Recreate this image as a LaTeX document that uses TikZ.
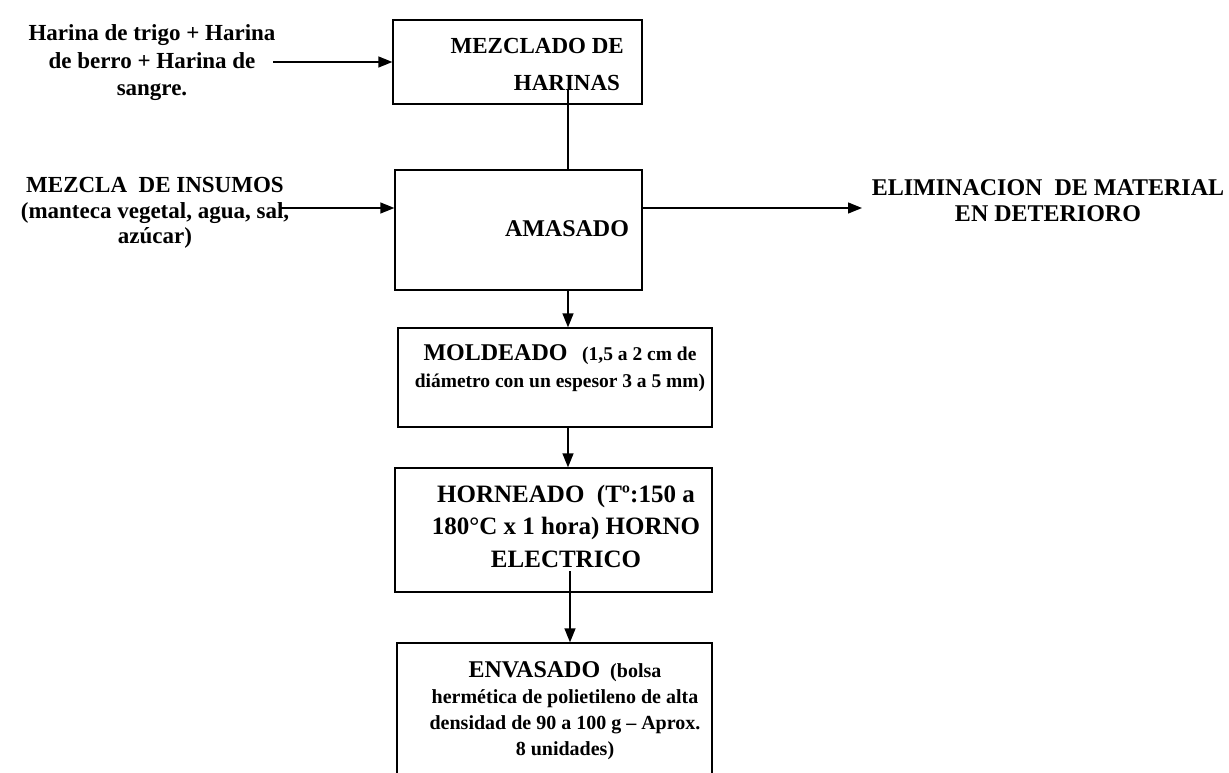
\documentclass[tikz,border=0pt]{standalone}
\usepackage{fontspec}
\setmainfont{Liberation Serif}
\usetikzlibrary{arrows.meta}

\tikzset{
  caja/.style 2 args={draw, line width=1.3pt, inner sep=0pt,
    minimum width=#1, minimum height=#2},
  texto/.style={align=center, inner sep=0pt, font=\bfseries},
  flecha/.style={line width=1.3pt, -{Triangle[length=14pt,width=11pt]}},
  linea/.style={line width=1.3pt}
}
\newcommand{\grande}{\fontsize{24}{36}\selectfont}
\newcommand{\chico}{\fontsize{19.5}{27}\selectfont}

\begin{document}
\begin{tikzpicture}[x=1pt, y=-1pt]
  \clip (0,0) rectangle (1229,773);

  % cajas del proceso
  \node[caja={249pt}{84pt}]  (b1) at (517.5,62)  {};
  \node[caja={247pt}{120pt}] (b2) at (518.5,230) {};
  \node[caja={314pt}{99pt}]  (b3) at (555,377.5) {};
  \node[caja={317pt}{124pt}] (b4) at (553.5,530) {};
  \node[caja={315pt}{157pt}] (b5) at (554.5,721.5) {}; % cortada abajo

  \node[texto, align=right, anchor=east, font=\bfseries\fontsize{23}{37}\selectfont]
    (t1) at (624,64) {MEZCLADO DE\\HARINAS\,};
  \node[texto, font=\bfseries\grande] (t2) at (567,229) {AMASADO};
  \node[texto, font=\bfseries\chico] (t3) at (560,368)
    {{\grande MOLDEADO}\ \ \ (1,5 a 2 cm de\\diámetro con un espesor 3 a 5 mm)};
  \node[texto, font=\bfseries\fontsize{25}{32.5}\selectfont] (t4) at (566,526)
    {HORNEADO\ \ (Tº:150 a\\180°C x 1 hora) HORNO\\ELECTRICO};
  \node[texto, font=\bfseries\fontsize{20}{26}\selectfont] (t5) at (565,711)
    {{\grande ENVASADO}\ \ (bolsa\\hermética de polietileno de alta\\densidad de 90 a 100 g – Aprox.\\8 unidades)};

  % entradas y salida
  \node[texto, font=\bfseries\fontsize{23}{27.5}\selectfont] (in1) at (152,63)
    {Harina de trigo + Harina\\de berro + Harina de\\sangre.};
  \node[texto, font=\bfseries\fontsize{23}{25.5}\selectfont] (in2) at (155,213)
    {MEZCLA\ \ DE INSUMOS\\(manteca vegetal, agua, sal,\\azúcar)};
  \node[texto, font=\bfseries\fontsize{24}{26}\selectfont] (out) at (1048,201)
    {ELIMINACION\ \ DE MATERIAL\\EN DETERIORO};

  \coordinate (e1) at (273,62);
  \coordinate (e2) at (280,208);
  \coordinate (s1) at (862,208);
  \coordinate (eje) at (568,0);

  \draw[flecha] (e1) -- (e1 -| b1.west);
  \draw[flecha] (e2) -- (e2 -| b2.west);
  \draw[flecha] (s1 -| b2.east) -- (s1);

  \draw[linea] (eje |- t1.south) -- (eje |- b2.north);
  \draw[flecha] (eje |- b2.south) -- (eje |- b3.north);
  \draw[flecha] (eje |- b3.south) -- (eje |- b4.north);
  \draw[flecha] ([xshift=2pt,yshift=-4pt]eje |- t4.south) -- ([xshift=2pt]eje |- b5.north);
\end{tikzpicture}
\end{document}
